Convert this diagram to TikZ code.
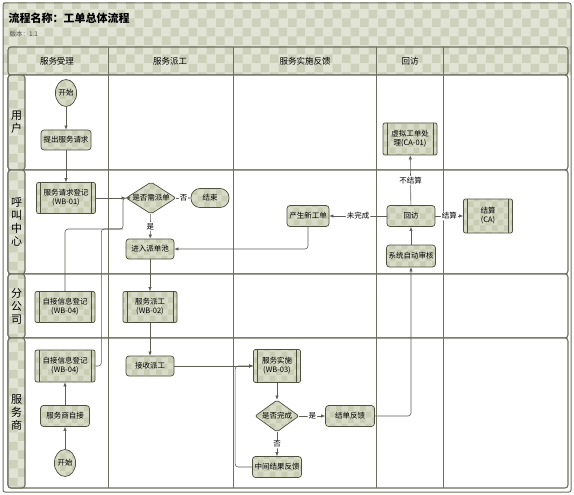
\documentclass[tikz,border=0pt]{standalone}
\usepackage{fontspec}
\setmainfont{Noto Sans CJK SC}
\usetikzlibrary{shapes.geometric,arrows.meta,patterns.meta}

\definecolor{chkbase}{HTML}{E1E3D5}
\definecolor{chkdark}{HTML}{CDD0BA}
\definecolor{nodebase}{HTML}{D8DBC7}
\definecolor{nodedark}{HTML}{C8CCB3}
\definecolor{edgecol}{HTML}{4C503E}
\definecolor{linecol}{HTML}{5C5D55}
\definecolor{gridcol}{HTML}{6C6F60}

\pgfdeclarepattern{
  name=bigcheck, type=uncolored,
  bottom left={\pgfpoint{0pt}{0pt}}, top right={\pgfpoint{18pt}{18pt}},
  tile size={\pgfpoint{18pt}{18pt}},
  code={
    \pgfpathrectangle{\pgfpointorigin}{\pgfpoint{9pt}{9pt}}
    \pgfpathrectangle{\pgfpoint{9pt}{9pt}}{\pgfpoint{9pt}{9pt}}
    \pgfusepath{fill}
  }
}
\pgfdeclarepattern{
  name=smallcheck, type=uncolored,
  bottom left={\pgfpoint{0pt}{0pt}}, top right={\pgfpoint{12pt}{12pt}},
  tile size={\pgfpoint{12pt}{12pt}},
  code={
    \pgfpathrectangle{\pgfpointorigin}{\pgfpoint{6pt}{6pt}}
    \pgfpathrectangle{\pgfpoint{6pt}{6pt}}{\pgfpoint{6pt}{6pt}}
    \pgfusepath{fill}
  }
}

\newcommand{\nodefont}{\fontsize{7.5}{9}\selectfont}

\tikzset{
  chk/.style={preaction={fill=chkbase}, pattern=bigcheck, pattern color=chkdark},
  grid/.style={draw=gridcol, line width=1.1pt},
  task/.style={draw=edgecol, line width=0.7pt, rounded corners=3pt,
    preaction={fill=nodebase}, pattern=smallcheck, pattern color=nodedark,
    inner sep=1pt, align=center, font=\nodefont, minimum height=20},
  proc/.style={task, rounded corners=2pt,
    path picture={\draw[edgecol, line width=0.5pt]
      ([xshift=4pt]path picture bounding box.north west) -- ([xshift=4pt]path picture bounding box.south west)
      ([xshift=-4pt]path picture bounding box.north east) -- ([xshift=-4pt]path picture bounding box.south east);}},
  term/.style={task, rounded corners=9pt, minimum height=19},
  startnode/.style={task, ellipse, rounded corners=0pt, inner sep=0pt, minimum width=21, minimum height=27},
  decide/.style={task, diamond, rounded corners=2pt, aspect=1.5, inner xsep=-2pt, inner ysep=0pt,
    minimum height=32},
  lanelbl/.style={align=center, font=\fontsize{11}{13}\selectfont},
  headlbl/.style={font=\fontsize{8.5}{10}\selectfont},
  lbl/.style={fill=white, inner sep=1pt, font=\nodefont},
  flow/.style={draw=linecol, line width=0.6pt, rounded corners=3pt, -{Latex[length=4pt,width=3.5pt]}},
  line/.style={draw=linecol, line width=0.6pt, rounded corners=3pt}
}

\begin{document}
\begin{tikzpicture}[x=1pt, y=-1pt]
  \useasboundingbox (0,0) rectangle (574,495);

  % title block and header row
  \path[chk] (3,3) rectangle (571,75);
  \node[anchor=west, font=\fontsize{11}{13}\selectfont\bfseries] (title) at (5,18) {流程名称：工单总体流程};
  \node[anchor=west, font=\fontsize{6.5}{8}\selectfont, text=black!70] (ver) at (6,34) {版本：1.1};
  \draw[grid, rounded corners=3pt] (8,47) rectangle (568,75);

  \node[headlbl] (h1) at (57,61) {服务受理};
  \node[headlbl] (h2) at (170,61) {服务派工};
  \node[headlbl] (h3) at (305,61) {服务实施反馈};
  \node[headlbl] (h4) at (410,61) {回访};

  % lanes
  \draw[grid, fill=white, rounded corners=3pt] (8,75) rectangle (568,170);
  \draw[grid, fill=white, rounded corners=3pt] (8,170) rectangle (568,274);
  \draw[grid, fill=white, rounded corners=3pt] (8,274) rectangle (568,338);
  \draw[grid, fill=white, rounded corners=3pt] (8,338) rectangle (568,488);
  \draw[grid, chk, rounded corners=3pt] (8,75) rectangle (25,170);
  \draw[grid, chk, rounded corners=3pt] (8,170) rectangle (25,274);
  \draw[grid, chk, rounded corners=3pt] (8,274) rectangle (25,338);
  \draw[grid, chk, rounded corners=3pt] (8,338) rectangle (25,488);

  \node[lanelbl] (l1) at (16.5,122) {用\\户};
  \node[lanelbl] (l2) at (16.5,222) {呼\\叫\\中\\心};
  \node[lanelbl] (l3) at (16.5,306) {分\\公\\司};
  \node[lanelbl] (l4) at (16.5,413) {服\\务\\商};

  % columns
  \foreach \cx in {108,233,376,443}
    \draw[gridcol, line width=0.7pt] (\cx,47) -- (\cx,488);

  \draw[gridcol, line width=1pt, rounded corners=2pt] (3,3) rectangle (571,492);

  % nodes
  \node[startnode] (st1) at (66,93) {开始};
  \node[task, minimum width=50] (req) at (66,140) {提出服务请求};
  \node[proc, minimum width=59, minimum height=31] (reg) at (66,198) {服务请求登记\\(WB-01)};
  \node[decide, minimum width=50] (dec1) at (151,198) {是否需派单};
  \node[term, minimum width=38] (endn) at (210,198) {结束};
  \node[task, minimum width=48] (pool) at (150,249) {进入派单池};
  \node[task, minimum width=42, minimum height=21] (newo) at (308,216) {产生新工单};
  \node[task, minimum width=48, minimum height=21] (visit) at (411,216) {回访};
  \node[task, minimum width=49, minimum height=22] (audit) at (411,256) {系统自动审核};
  \node[proc, minimum width=54, minimum height=32] (virt) at (410,139) {虚拟工单处\\理(CA-01)};
  \node[proc, minimum width=49, minimum height=34] (settle) at (488,216) {结算\\(CA)};

  \node[proc, minimum width=60, minimum height=31] (selfA) at (65,307) {自接信息登记\\(WB-04)};
  \node[proc, minimum width=54, minimum height=31] (disp) at (150,307) {服务派工\\(WB-02)};

  \node[proc, minimum width=60, minimum height=32] (selfB) at (65,366) {自接信息登记\\(WB-04)};
  \node[task, minimum width=48] (recv) at (150,366) {接收派工};
  \node[task, minimum width=49, minimum height=21] (spself) at (65,416) {服务商自接};
  \node[startnode] (st2) at (65,463) {开始};
  \node[proc, minimum width=47, minimum height=33] (impl) at (277,366) {服务实施\\(WB-03)};
  \node[decide, minimum width=44] (dec2) at (277,416) {是否完成};
  \node[task, minimum width=49, minimum height=21] (close) at (350,416) {结单反馈};
  \node[task, minimum width=49, minimum height=21] (mid) at (277,467) {中间结果反馈};

  \coordinate (jn) at (123,229);

  % connectors
  \draw[flow] (st1) -- (req);
  \draw[flow] (req) -- (reg);
  \draw[flow] (reg) -- (dec1);
  \draw[flow] (dec1) -- node[lbl] {否} (endn);
  \draw[flow] (dec1) -- node[lbl] {是} (pool);
  \draw[flow] (pool) -- (disp);
  \draw[flow] (disp) -- (recv);
  \draw[flow] (recv) -- (impl);
  \draw[flow] (impl) -- (dec2);
  \draw[flow] (dec2) -- node[lbl] {是} (close);
  \draw[flow] (dec2) -- node[lbl] {否} (mid);
  \draw[flow] (mid.west) -- ++(-17,0) |- (impl.west);
  \draw[flow] (close.east) -| (audit.south);
  \draw[flow] (audit) -- (visit);
  \draw[flow] (visit) -- node[lbl] {不结算} (virt);
  \draw[flow] (visit) -- node[lbl] {结算} (settle);
  \draw[flow] (visit) -- node[lbl] {未完成} (newo);
  \draw[flow] (newo.south) |- (pool.east);
  \draw[flow] (selfA.north) |- (jn) |- (dec1.west);
  \draw[line] (selfB.east) -- ++(6,0) |- (jn);
  \draw[flow] (st2) -- (spself);
  \draw[flow] (spself) -- (selfB);
\end{tikzpicture}
\end{document}
